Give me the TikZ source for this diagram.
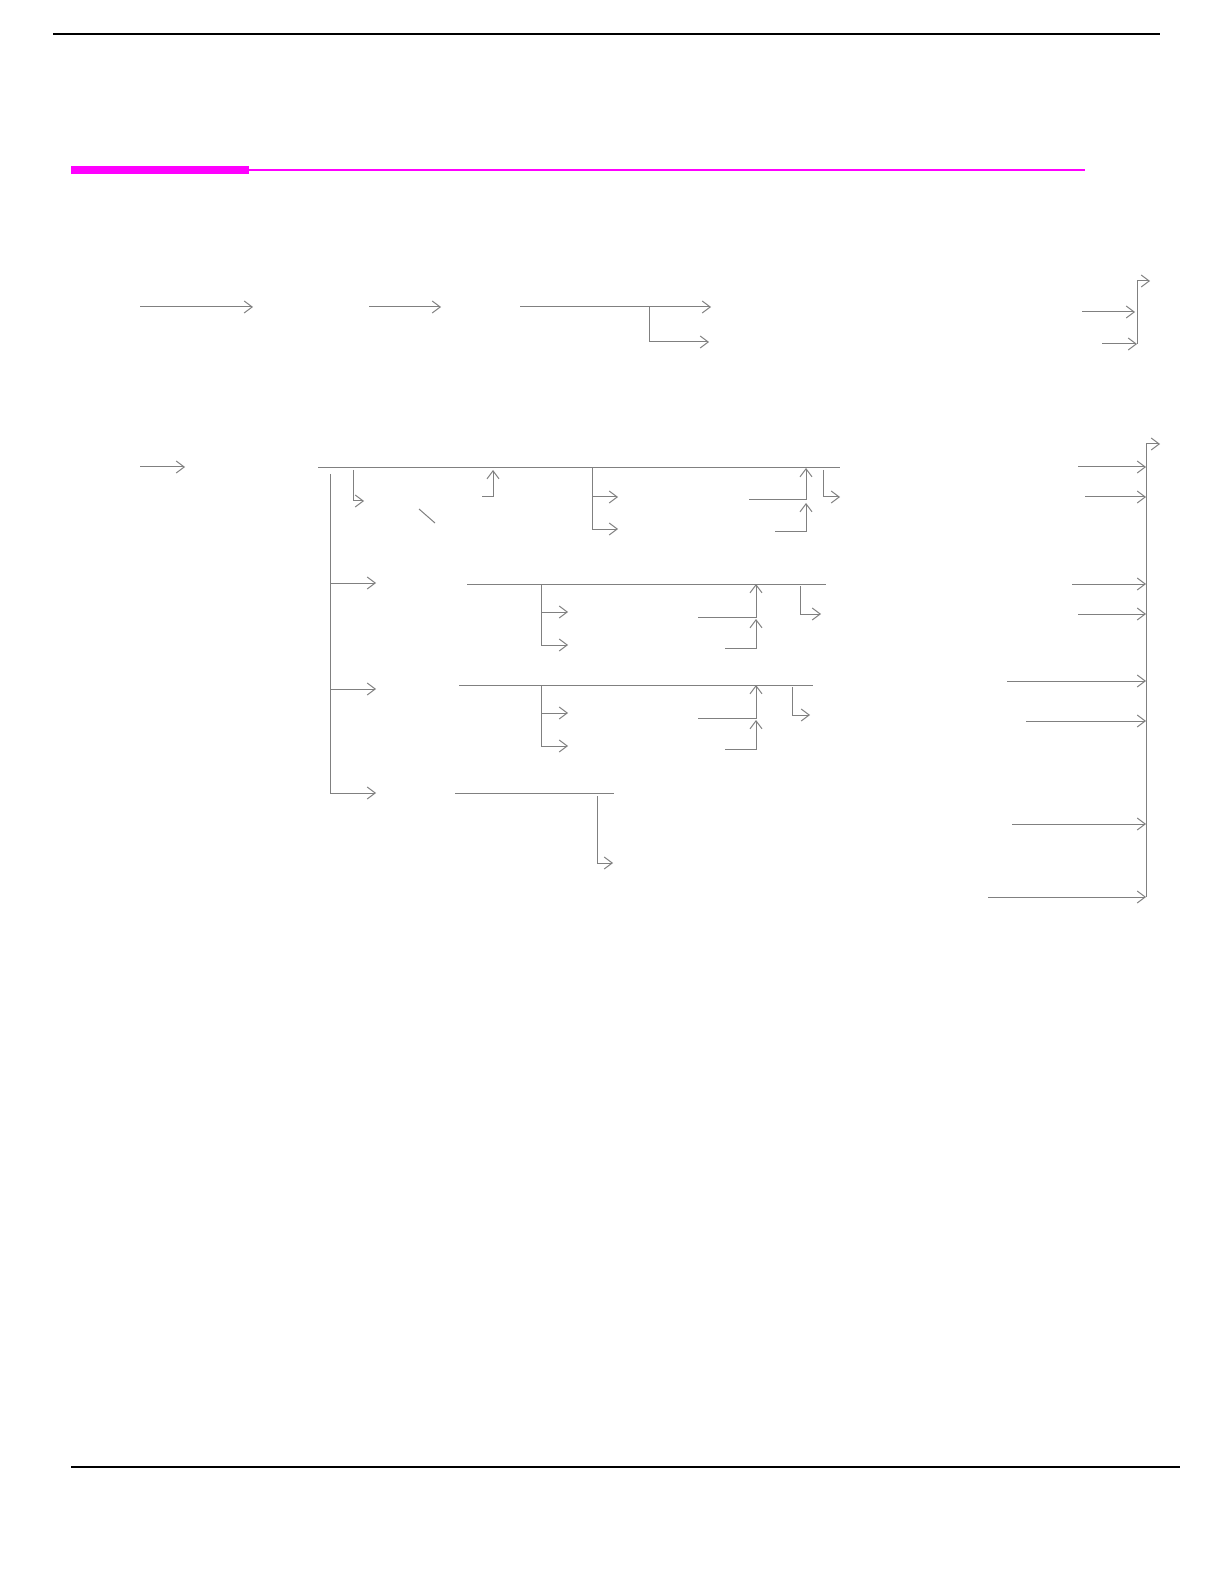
\documentclass[tikz,border=0pt]{standalone}
\usetikzlibrary{arrows.meta}
\definecolor{wiregray}{RGB}{128,128,128}
\definecolor{barmagenta}{RGB}{255,0,255}
\tikzset{
  wire/.style={draw=wiregray, line width=.5pt},
  rule/.style={draw=black, line width=.6pt}
}
\begin{document}
\begin{tikzpicture}[x=.5pt, y=-.5pt, >={Straight Barb[length=4pt,width=6pt]}]
\useasboundingbox (0,0) rectangle (1224,1582);
% page rules
\draw[rule](53,34)--(1160,34);
\draw[rule](71,1467)--(1180,1467);
\fill[barmagenta](71,166) rectangle (249,174);
\draw[barmagenta, line width=1pt](249,170)--(1085,170);

% first row
\draw[wire,->](140,307)--(253,307);
\draw[wire,->](369,307)--(441,307);
\draw[wire,->](520,307)--(711,307);
\draw[wire,->](649,307)--(649,342)--(709,342);
\draw[wire,->](1082,312)--(1135,312);
\draw[wire,->](1102,344)--(1137,344);
\draw[wire,->](1137,344)--(1137,281)--(1150,281);

% second row
\draw[wire,->](140,467)--(185,467);
\draw[wire](318,468)--(840,468);
\draw[wire](330,474)--(330,793);
\foreach \y in {583,689,793}
{
    \draw[wire,->](330,\y)--(376,\y);
}
\draw[wire,->](353,470)--(353,501)--(364,501);
\draw[wire](419,509)--(435,523);
\draw[wire,->](482,497)--(493,497)--(493,470);
\draw[wire](592,468)--(592,529);
\draw[wire,->](592,497)--(618,497);
\draw[wire,->](592,529)--(618,529);
\draw[wire,->](749,500)--(806,500)--(806,468);
\draw[wire,->](775,531)--(806,531)--(806,503);
\draw[wire,->](823,470)--(823,497)--(840,497);

% two sub rows alike
\foreach \y/\l/\r/\h/\t in {584/467/826/800/821, 685/459/813/792/810}
{
    \draw[wire](\l,\y)--(\r,\y);
    \draw[wire](541,\y)--(541,\y+61);
    \draw[wire,->](541,\y+28)--(568,\y+28);
    \draw[wire,->](541,\y+61)--(568,\y+61);
    \draw[wire,->](698,\y+33)--(756,\y+33)--(756,\y);
    \draw[wire,->](725,\y+64)--(756,\y+64)--(756,\y+35);
    \draw[wire,->](\h,\y+2)--(\h,\y+30)--(\t,\y+30);
}
\draw[wire](455,793)--(614,793);
\draw[wire,->](597,796)--(597,863)--(613,863);

% right collector
\draw[wire,->](1146,897)--(1146,444)--(1160,444);
\foreach \x/\y in {1078/467, 1085/497, 1072/584, 1078/614, 1007/681, 1026/721, 1012/824, 988/897}
{
    \draw[wire,->](\x,\y)--(1146,\y);
}
\end{tikzpicture}
\end{document}
